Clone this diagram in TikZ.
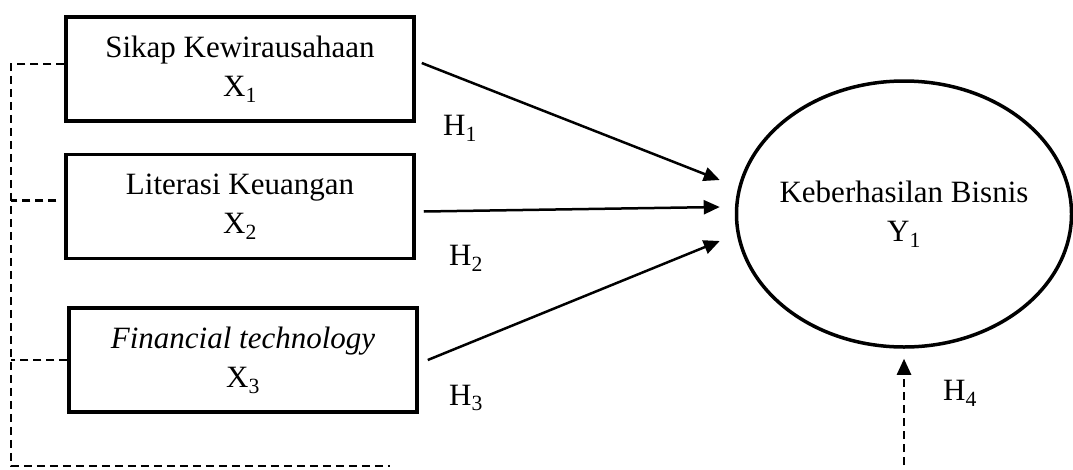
\documentclass[tikz,border=0pt]{standalone}
\usepackage{fontspec}
\setmainfont{Liberation Serif}
\usetikzlibrary{positioning,shapes.geometric,arrows.meta}

\begin{document}
\begin{tikzpicture}[
  x=1pt, y=-1pt,
  every node/.style={font=\fontsize{31}{39}\selectfont},
  box/.style={draw, line width=3.5pt, align=center, inner sep=0pt,
              minimum width=348pt, minimum height=104pt},
  goal/.style={draw, ellipse, line width=3.5pt, align=center, inner sep=0pt,
               inner xsep=-15pt, minimum width=335pt, minimum height=266pt},
  arrow/.style={-{Triangle[length=16pt,width=14pt]}, line width=2.5pt},
  dashline/.style={line width=2.5pt, dash pattern=on 8pt off 5pt}
]
  \useasboundingbox (0,0) rectangle (1073,469);

  \node[box] (sikap) at (240,69) {Sikap Kewirausahaan\\X\textsubscript{1}};
  \node[box, below=30pt of sikap] (literasi) {Literasi Keuangan\\X\textsubscript{2}};
  \node[box, below=46pt of literasi, xshift=3pt] (fintech) {\textit{Financial technology}\\X\textsubscript{3}};

  \node[goal] (bisnis) at (904,214) {Keberhasilan Bisnis\\Y\textsubscript{1}};

  \node (h1) at (460,128) {H\textsubscript{1}};
  \node (h2) at (466,258) {H\textsubscript{2}};
  \node (h3) at (466,398) {H\textsubscript{3}};
  \node (h4) at (960,393) {H\textsubscript{4}};

  \coordinate (brk) at (11,466);
  \coordinate (brkend) at (390,466);
  \coordinate (h4start) at (904,465);
  \coordinate (t2) at ([yshift=6pt]literasi.west);

  % hypotheses
  \draw[arrow] ([xshift=6pt,yshift=6pt]sikap.east) -- ([xshift=-15pt,yshift=34pt]bisnis.west);
  \draw[arrow] ([xshift=8pt,yshift=-5pt]literasi.east) -- ([xshift=-15pt,yshift=7pt]bisnis.west);
  \draw[arrow] ([xshift=9pt]fintech.east) -- ([xshift=-15pt,yshift=-27pt]bisnis.west);
  \draw[arrow, dash pattern=on 8pt off 5pt] (h4start) -- ([yshift=-10pt]bisnis.south);

  % simultaneous bracket
  \draw[dashline] ([yshift=5pt]sikap.west) -| (brk) -- (brkend);
  \draw[dashline] ([xshift=-8pt]t2) -- (t2 -| brk);
  \draw[dashline] (fintech.west) -- (fintech.west -| brk);
\end{tikzpicture}
\end{document}
